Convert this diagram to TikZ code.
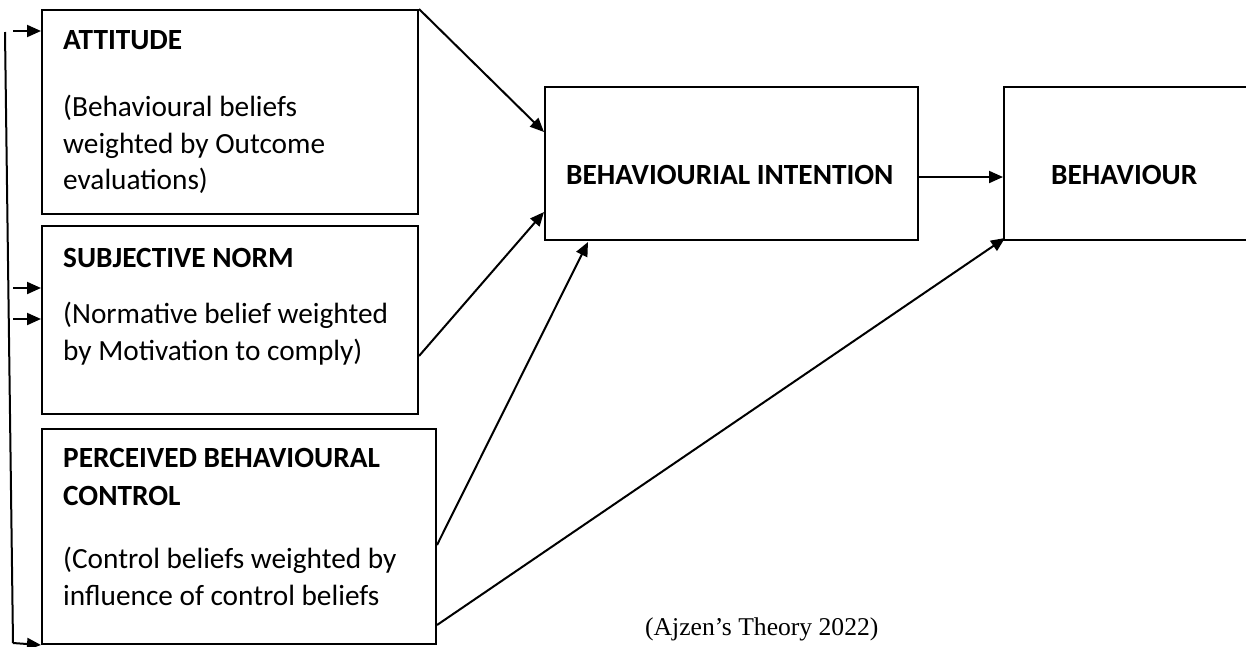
\documentclass[tikz,border=0pt]{standalone}
\usepackage{fontspec}
\setmainfont{Carlito}
\newfontfamily\capfont{Liberation Serif}
\usetikzlibrary{arrows.meta,calc}
\tikzset{
  box/.style={draw, line width=2pt, rectangle, anchor=north west, inner sep=0pt},
  arr/.style={line width=2pt, -{Triangle[length=14pt,width=12pt]}},
  ln/.style={line width=2pt},
  ttl/.style={anchor=base west, inner sep=0pt, font=\fontsize{29.3}{34}\selectfont\bfseries},
  txt/.style={anchor=base west, inner sep=0pt, font=\fontsize{29.3}{34}\selectfont},
}
\begin{document}
\begin{tikzpicture}[x=1pt,y=-1pt]
\useasboundingbox (0,0) rectangle (1246,646);
% boxes
\node[box, minimum width=376pt, minimum height=204pt] (att) at (41,9) {};
\node[box, minimum width=376pt, minimum height=188pt] (sn) at (41,225) {};
\node[box, minimum width=394pt, minimum height=215pt] (pbc) at (41,428) {};
\node[box, minimum width=373pt, minimum height=153pt] (int) at (544,86) {};
\node[box, minimum width=280pt, minimum height=153pt] (beh) at (1003,86) {};
% texts
\node[ttl] (attT) at (63,49) {ATTITUDE};
\node[txt] (attB1) at (63,116) {(Behavioural beliefs};
\node[txt] (attB2) at (63,153) {weighted by Outcome};
\node[txt] (attB3) at (63,189) {evaluations)};
\node[ttl] (snT) at (63,267) {SUBJECTIVE NORM};
\node[txt] (snB1) at (63,323) {(Normative belief weighted};
\node[txt] (snB2) at (63,360) {by Motivation to comply)};
\node[ttl] (pbcT1) at (63,467) {PERCEIVED BEHAVIOURAL};
\node[ttl] (pbcT2) at (63,505) {CONTROL};
\node[txt] (pbcB1) at (63,568) {(Control beliefs weighted by};
\node[txt] (pbcB2) at (63,605) {influence of control beliefs};
\node[ttl] (intT) at (566,184) {BEHAVIOURIAL INTENTION};
\node[ttl] (behT) at (1051,184) {BEHAVIOUR};
\node[anchor=base west, inner sep=0pt, font=\capfont\fontsize{25.6}{30}\selectfont] (cap) at (645,635) {(Ajzen’s Theory 2022)};
% connectors
\draw[arr] (att.north east) -- ([yshift=-46pt]int.north west);
\draw[arr] ([yshift=-36pt]sn.east) -- ([yshift=-126pt]int.north west);
\draw[arr] ([yshift=100pt]pbc.south east) -- ([xshift=44pt,yshift=-1pt]int.south west);
\draw[arr] ([yshift=20pt]pbc.south east) -- ([xshift=2pt,yshift=3pt]beh.south west);
\draw[arr] ([yshift=-13.5pt]int.east) -- ([yshift=-13.5pt]beh.west);
% feedback line
\coordinate (fbTop) at (5,32);
\coordinate (fbBot) at (13,643);
\draw[ln] (fbTop) -- (fbBot);
\draw[arr] (fbBot) -- (pbc.south west);
\coordinate (s1) at (13,31);
\coordinate (s2) at (13,288);
\coordinate (s3) at (13,319);
\draw[arr] (s1) -- (s1 -| att.west);
\draw[arr] (s2) -- (s2 -| sn.west);
\draw[arr] (s3) -- (s3 -| sn.west);
\end{tikzpicture}
\end{document}
